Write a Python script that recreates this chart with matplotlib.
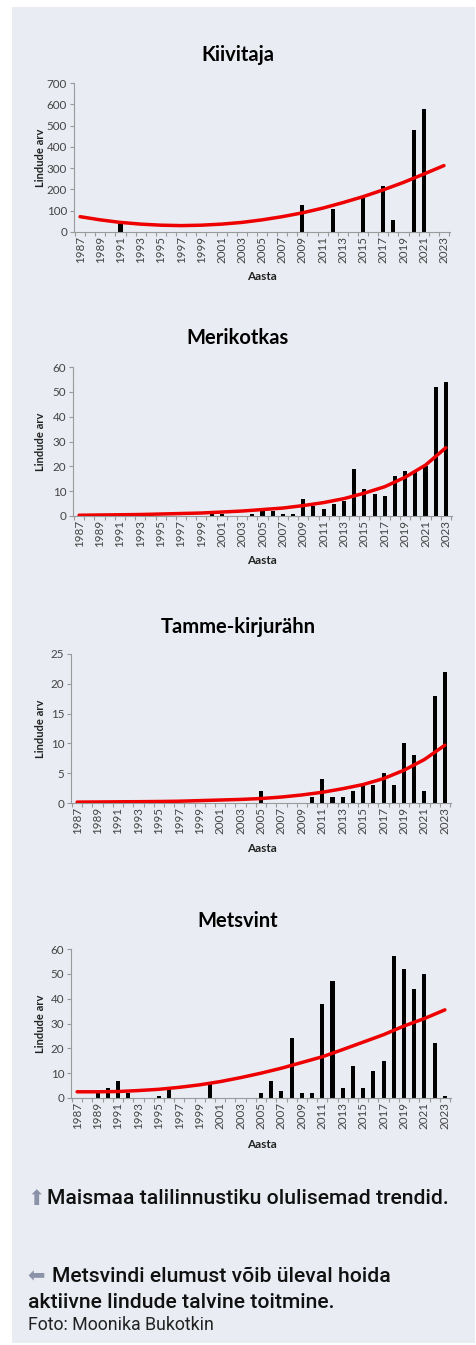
import numpy as np
import matplotlib
matplotlib.use("Agg")
import matplotlib.pyplot as plt
from matplotlib.patches import Rectangle

# ----------------- andmed -----------------
years = list(range(1987, 2024))
trend_years = list(range(1987, 2024, 2))

kiivitaja = {1991: 40, 2009: 125, 2012: 108, 2015: 165, 2017: 217, 2018: 56,
             2020: 478, 2021: 580}
kiivitaja_trend = [72, 57, 45, 37, 32, 30, 32, 37, 45, 57, 72, 90, 112, 138,
                   166, 198, 233, 272, 312]

merikotkas = {2000: 1, 2001: 1, 2004: 1, 2005: 2, 2006: 2, 2007: 1, 2008: 1,
              2009: 7, 2010: 4, 2011: 3, 2012: 5, 2013: 6, 2014: 19, 2015: 11,
              2016: 9, 2017: 8, 2018: 16, 2019: 18, 2020: 18, 2021: 20,
              2022: 52, 2023: 54}
merikotkas_trend = [0.3, 0.4, 0.5, 0.6, 0.8, 1.0, 1.2, 1.6, 2.0, 2.6, 3.2, 4.2,
                    5.4, 7.0, 9.2, 11.8, 15.6, 20.5, 27.5]

tamme = {2005: 2, 2010: 1, 2011: 4, 2012: 1, 2013: 1, 2014: 2, 2015: 3,
         2016: 3, 2017: 5, 2018: 3, 2019: 10, 2020: 8, 2021: 2, 2022: 18,
         2023: 22}
tamme_trend = [0.15, 0.17, 0.2, 0.22, 0.25, 0.3, 0.4, 0.5, 0.6, 0.75, 1.0, 1.35,
               1.8, 2.4, 3.1, 4.1, 5.5, 7.3, 9.7]

metsvint = {1989: 2, 1990: 4, 1991: 7, 1992: 2, 1995: 1, 1996: 4, 2000: 6,
            2005: 2, 2006: 7, 2007: 3, 2008: 24, 2009: 2, 2010: 2, 2011: 38,
            2012: 47, 2013: 4, 2014: 13, 2015: 4, 2016: 11, 2017: 15,
            2018: 57, 2019: 52, 2020: 44, 2021: 50, 2022: 22, 2023: 1}
metsvint_trend = [2.5, 2.5, 2.6, 3.0, 3.5, 4.3, 5.3, 6.6, 8.2, 10.0, 12.0, 14.3,
                  16.6, 19.5, 22.5, 25.5, 29.0, 32.0, 35.5]

panels = [
    ("Kiivitaja", kiivitaja, kiivitaja_trend, 700, 100),
    ("Merikotkas", merikotkas, merikotkas_trend, 60, 10),
    ("Tamme-kirjurähn", tamme, tamme_trend, 25, 5),
    ("Metsvint", metsvint, metsvint_trend, 60, 10),
]

# pikslites: (vasak, ülemine, parem, alumine), pealkiri, "Aasta"
boxes = [(74, 83, 450, 232, 55, 277),
         (73, 367, 452, 516, 338, 561),
         (71, 654, 451, 803, 627, 849),
         (71, 949, 451, 1098, 921, 1145)]

W, H = 477, 1345
BG = "#e9ecf2"
TICKC = "#444444"
AXC = "#9a9a9a"

fig = plt.figure(figsize=(W / 100, H / 100), dpi=100)
fig.patch.set_facecolor("white")
bg = Rectangle((12 / W, 1 - 1343 / H), (475 - 12) / W, (1343 - 7) / H,
               transform=fig.transFigure, facecolor=BG, edgecolor="none")
bg.set_zorder(-10)
fig.add_artist(bg)

for (name, data, trend, ymax, ystep), (l, t, r, b, ty, ay) in zip(panels, boxes):
    ax = fig.add_axes([l / W, 1 - b / H, (r - l) / W, (b - t) / H])
    ax.set_facecolor("none")
    vals = [data.get(y, 0) for y in years]
    x = np.arange(len(years))
    ax.bar(x, vals, width=0.4, color="black", zorder=2)
    tx = [years.index(y) for y in trend_years]
    ax.plot(tx, trend, color="#ee0000", lw=2.5, solid_capstyle="round", zorder=3)
    ax.set_xlim(-0.6, len(years) - 0.4)
    ax.set_ylim(0, ymax)
    ax.set_yticks(np.arange(0, ymax + 1, ystep))
    ax.set_xticks(x[::2])
    ax.set_xticklabels([str(y) for y in years[::2]], rotation=90)
    ax.set_xticks(np.arange(-0.5, len(years), 1), minor=True)
    ax.tick_params(axis="x", which="major", length=0, pad=3, labelsize=8.4,
                   labelcolor=TICKC)
    ax.tick_params(axis="x", which="minor", length=3, color=AXC, width=0.8)
    ax.tick_params(axis="y", length=3, color=AXC, width=0.8, pad=2,
                   labelsize=8.4, labelcolor=TICKC)
    for s in ["top", "right"]:
        ax.spines[s].set_visible(False)
    for s in ["left", "bottom"]:
        ax.spines[s].set_color(AXC)
        ax.spines[s].set_linewidth(0.8)
    for lab in ax.get_xticklabels() + ax.get_yticklabels():
        lab.set_family("Lato")

    fig.text(238 / W, 1 - ty / H, name, ha="center", va="center",
             fontsize=14.5, fontweight="bold", family="Lato", color="black")
    fig.text(262 / W, 1 - ay / H, "Aasta", ha="center", va="center",
             fontsize=8.5, fontweight="bold", family="Lato", color="#222222")
    fig.text(40 / W, 1 - (t + b) / 2 / H, "Lindude arv", ha="center",
             va="center", rotation=90, fontsize=8, fontweight="bold",
             family="Lato", color="#222222")

# allkirjad
CAP = 15.2
fig.text(27 / W, 1 - 1199 / H, "⬆", ha="left", va="center", fontsize=15,
         color="#8a93a8", family="DejaVu Sans")
fig.text(47 / W, 1 - 1199 / H, "Maismaa talilinnustiku olulisemad trendid.",
         ha="left", va="center", fontsize=CAP, color="#111111",
         family="Roboto", fontweight="medium")
fig.text(27 / W, 1 - 1276 / H, "⬅", ha="left", va="center", fontsize=15,
         color="#8a93a8", family="DejaVu Sans")
fig.text(52 / W, 1 - 1276 / H, "Metsvindi elumust võib üleval hoida",
         ha="left", va="center", fontsize=CAP, color="#111111",
         family="Roboto", fontweight="medium")
fig.text(28 / W, 1 - 1302 / H, "aktiivne lindude talvine toitmine.",
         ha="left", va="center", fontsize=CAP, color="#111111",
         family="Roboto", fontweight="medium")
fig.text(28 / W, 1 - 1325 / H, "Foto: Moonika Bukotkin",
         ha="left", va="center", fontsize=12.8, color="#222222",
         family="Roboto")

fig.savefig("out.png", dpi=100, facecolor=fig.get_facecolor())
